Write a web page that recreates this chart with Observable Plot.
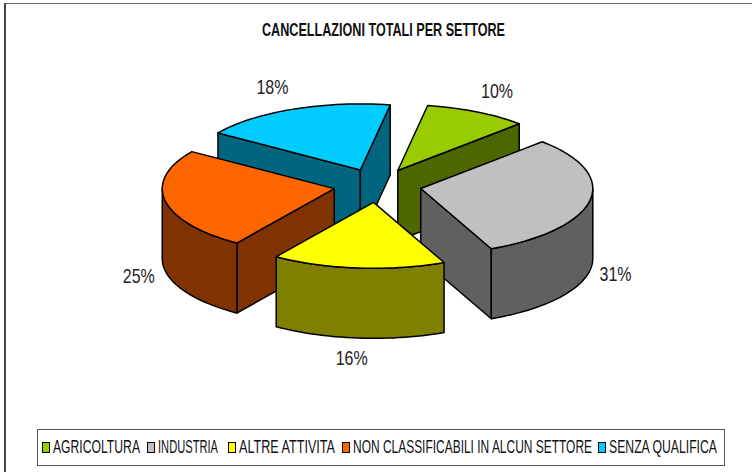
<!DOCTYPE html>
<html>
<head>
<meta charset="utf-8">
<script src="https://cdn.jsdelivr.net/npm/d3@7"></script>
<script src="https://cdn.jsdelivr.net/npm/@observablehq/plot@0.6"></script>
<style>
  html, body { margin: 0; padding: 0; background: #fff; }
  #page { position: relative; width: 752px; height: 472px; overflow: hidden; font-family: "Liberation Sans", Arial, sans-serif; color: #111; }
  #frame { position: absolute; left: 4px; top: 3px; width: 760px; height: 480px; border-left: 2px solid #444; border-top: 1.5px solid #666; box-sizing: border-box; }
  #plot { position: absolute; left: 0; top: 0; }
  #plot svg { display: block; }
  #title { position: absolute; left: 262px; top: 21px; font-weight: bold; font-size: 17.5px; line-height: 18px; white-space: nowrap; transform-origin: left center; }
  #legend { position: absolute; left: 37px; top: 429px; width: 688px; height: 37px; box-sizing: border-box; border: 1px solid #555; }
  .sw { position: absolute; top: 12px; width: 6px; height: 9px; border: 1px solid #000; }
  .lab { position: absolute; top: 7px; font-size: 17.5px; line-height: 20px; white-space: nowrap; transform-origin: left center; }
</style>
</head>
<body>
<div id="page">
  <div id="frame"></div>
  <div id="plot"></div>
  <div id="title"></div>
  <div id="legend"></div>
</div>
<script>
const titleText = "CANCELLAZIONI TOTALI PER SETTORE";
const categories = ["AGRICOLTURA", "INDUSTRIA", "ALTRE ATTIVITA", "NON CLASSIFICABILI IN ALCUN SETTORE", "SENZA QUALIFICA"];
const shares = [9.7, 30.8, 16.3, 24.9, 18.3];
const topColors = ["#99CC00", "#C0C0C0", "#FFFF00", "#FF6600", "#00CCFF"];
const sideColors = ["#4D6600", "#606060", "#808000", "#803300", "#006680"];

// Pie layout
const width = 752, height = 472;
const cx = 377, cy = 185, rx = 172, ry = 66, depth = 70, explode = 44;
const startAngle = 80;              // degrees, counter-clockwise from east; slices run clockwise
const labelRx = 200, labelRy = 88;
const labelNudgeX = [7, -2, -4, 1, -10];
const labelNudgeY = [-1, 0, -2, 1, -2];
const paintOrder = [4, 0, 1, 3, 2]; // back to front
const legendLeft = [4, 109, 190, 304, 560];
const legendTextWidth = [87, 60, 96, 239, 108];
const titleWidth = 243, labelWidth = 32;

const rad = d => d * Math.PI / 180;
let running = startAngle;
const slices = shares.map((v, i) => {
  const a0 = running, a1 = running - v * 3.6;
  running = a1;
  const mid = (a0 + a1) / 2;
  const ox = cx + explode * Math.cos(rad(mid));
  const oy = cy - explode * Math.sin(rad(mid)) * ry / rx;
  return {i, v, a0, a1, mid, ox, oy};
});
const rim = (s, a) => [s.ox + rx * Math.cos(rad(a)), s.oy - ry * Math.sin(rad(a))];
const arc = (s, from, to) => {
  const n = Math.max(2, Math.ceil(Math.abs(from - to) / 2));
  return d3.range(n + 1).map(k => rim(s, from + (to - from) * k / n));
};
const close = pts => [...pts, pts[0]];
const drop = pts => pts.map(([x, y]) => [x, y + depth]).reverse();
const polygon = (pts, fill) => Plot.line(close(pts), {x: d => d[0], y: d => d[1], fill, stroke: "#000", strokeWidth: 1.5, strokeLinejoin: "round"});

const marks = [];
for (const i of paintOrder) {
  const s = slices[i];
  const apex = [s.ox, s.oy];
  // cut faces that turn toward the viewer
  if (Math.sin(rad(s.a0 + 90)) < 0) {
    const e = [apex, rim(s, s.a0)];
    marks.push(polygon([...e, ...drop(e)], sideColors[i]));
  }
  if (Math.sin(rad(s.a1 - 90)) < 0) {
    const e = [apex, rim(s, s.a1)];
    marks.push(polygon([...e, ...drop(e)], sideColors[i]));
  }
  // outer wall: only the front half of the rim
  const f0 = Math.min(s.a0, 0), f1 = Math.max(s.a1, -180);
  if (f0 > f1) {
    const e = arc(s, f0, f1);
    marks.push(polygon([...e, ...drop(e)], sideColors[i]));
  }
  // top face
  marks.push(polygon([apex, ...arc(s, s.a0, s.a1)], topColors[i]));
}

// Percent labels
const labels = slices.map(s => {
  const dy = Math.sin(rad(s.mid));
  return {
    text: Math.round(s.v) + "%",
    x: s.ox + labelRx * Math.cos(rad(s.mid)) + labelNudgeX[s.i],
    y: s.oy - labelRy * dy + (dy < 0 ? depth : 0) + labelNudgeY[s.i]
  };
});
marks.push(Plot.text(labels, {
  x: "x", y: "y", text: "text", fontSize: 21, fill: "#222",
  fontFamily: '"Liberation Sans", Arial, sans-serif',
  className: "pct"
}));

const chart = Plot.plot({
  width, height,
  margin: 0,
  x: {domain: [0, width], range: [0, width], axis: null},
  y: {domain: [0, height], range: [0, height], axis: null},
  style: {background: "transparent"},
  marks
});
document.getElementById("plot").append(chart);
chart.querySelectorAll(".pct text").forEach(t => {
  t.setAttribute("textLength", labelWidth);
  t.setAttribute("lengthAdjust", "spacingAndGlyphs");
});

// Condense a text element to the narrow width it has in the chart
const squeeze = (el, target) => {
  el.style.transform = `scaleX(${target / el.getBoundingClientRect().width})`;
};
const title = document.getElementById("title");
title.textContent = titleText;
squeeze(title, titleWidth);

const legend = document.getElementById("legend");
categories.forEach((c, i) => {
  const sw = document.createElement("span");
  sw.className = "sw";
  sw.style.background = topColors[i];
  sw.style.left = legendLeft[i] + "px";
  const lab = document.createElement("span");
  lab.className = "lab";
  lab.textContent = c;
  lab.style.left = legendLeft[i] + 11 + "px";
  legend.append(sw, lab);
  squeeze(lab, legendTextWidth[i]);
});
</script>
</body>
</html>
